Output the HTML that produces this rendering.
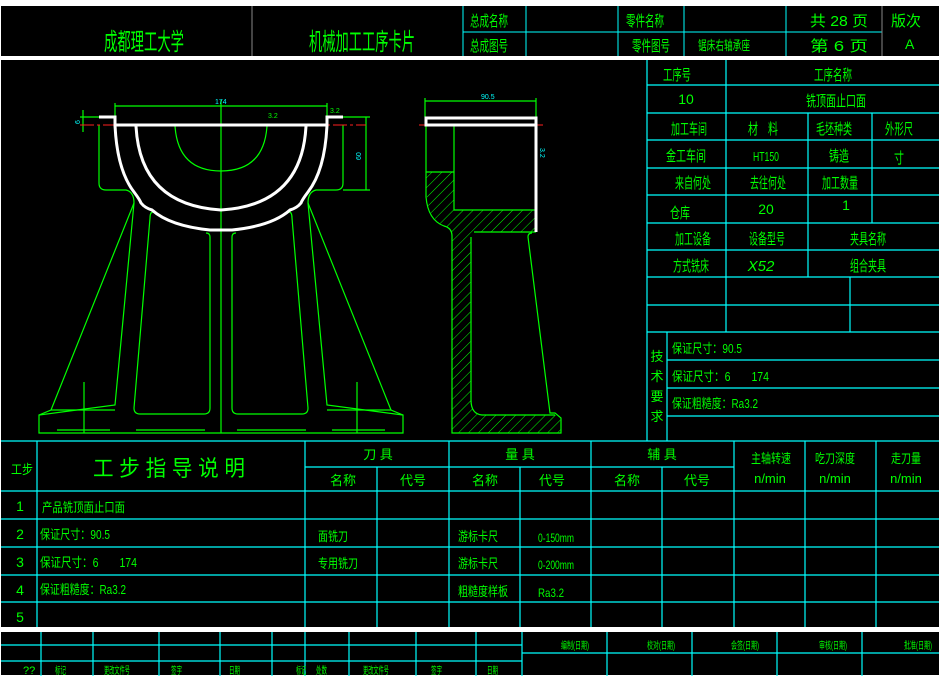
<!DOCTYPE html>
<html><head><meta charset="utf-8"><style>
html,body{margin:0;padding:0;background:#fff}
svg{display:block}
text{font-family:"Liberation Sans","Noto Sans CJK SC",sans-serif;fill:#00ff00}
</style></head><body>
<svg width="939" height="681" viewBox="0 0 939 681" xmlns="http://www.w3.org/2000/svg">
<rect x="0" y="0" width="939" height="681" fill="#fff"/>
<rect x="1" y="6" width="938" height="50" fill="#000"/>
<rect x="1" y="60" width="938" height="567" fill="#000"/>
<rect x="1" y="632" width="938" height="43" fill="#000"/>

<!-- header lines -->
<g stroke="#00ffff" stroke-width="1" fill="none">
<line x1="463" y1="32" x2="882" y2="32"/>
<line x1="463" y1="6" x2="463" y2="56"/><line x1="526" y1="6" x2="526" y2="56"/>
<line x1="618" y1="6" x2="618" y2="56"/><line x1="684" y1="6" x2="684" y2="56"/>
<line x1="786" y1="6" x2="786" y2="56"/>
</g>
<g stroke="#888" stroke-width="1"><line x1="252" y1="6" x2="252" y2="56"/><line x1="882" y1="6" x2="882" y2="56"/></g>
<text x="104" y="50" font-size="24" textLength="80" lengthAdjust="spacingAndGlyphs">成都理工大学</text>
<text x="309" y="50" font-size="24" textLength="106" lengthAdjust="spacingAndGlyphs">机械加工工序卡片</text>
<text x="470" y="26" font-size="15" textLength="38" lengthAdjust="spacingAndGlyphs">总成名称</text>
<text x="470" y="51" font-size="15" textLength="38" lengthAdjust="spacingAndGlyphs">总成图号</text>
<text x="626" y="26" font-size="15" textLength="38" lengthAdjust="spacingAndGlyphs">零件名称</text>
<text x="632" y="51" font-size="15" textLength="38" lengthAdjust="spacingAndGlyphs">零件图号</text>
<text x="698" y="50" font-size="13" textLength="52" lengthAdjust="spacingAndGlyphs">锯床右轴承座</text>
<text x="810" y="26" font-size="15" textLength="58" lengthAdjust="spacingAndGlyphs">共 28 页</text>
<text x="810" y="51" font-size="15" textLength="58" lengthAdjust="spacingAndGlyphs">第 6 页</text>
<text x="891" y="26" font-size="15" textLength="30" lengthAdjust="spacingAndGlyphs">版次</text>
<text x="905" y="49" font-size="14">A</text>

<!-- right table -->
<g stroke="#00ffff" stroke-width="1.2" fill="none">
<line x1="647" y1="60" x2="647" y2="441"/>
<line x1="726" y1="60" x2="726" y2="332"/>
<line x1="808" y1="113" x2="808" y2="277"/>
<line x1="872" y1="113" x2="872" y2="223"/>
<line x1="850" y1="277" x2="850" y2="332"/>
<line x1="667" y1="332" x2="667" y2="441"/>
<line x1="647" y1="85" x2="939" y2="85"/><line x1="647" y1="113" x2="939" y2="113"/>
<line x1="647" y1="140" x2="939" y2="140"/><line x1="647" y1="168" x2="939" y2="168"/>
<line x1="647" y1="195" x2="939" y2="195"/><line x1="647" y1="223" x2="939" y2="223"/>
<line x1="647" y1="250" x2="939" y2="250"/><line x1="647" y1="277" x2="939" y2="277"/>
<line x1="647" y1="305" x2="939" y2="305"/><line x1="647" y1="332" x2="939" y2="332"/>
<line x1="667" y1="360" x2="939" y2="360"/><line x1="667" y1="388" x2="939" y2="388"/>
<line x1="667" y1="416" x2="939" y2="416"/>
</g>
<g font-size="15" text-anchor="middle">
<text x="677" y="80" textLength="28" lengthAdjust="spacingAndGlyphs">工序号</text>
<text x="833" y="80" textLength="38" lengthAdjust="spacingAndGlyphs">工序名称</text>
<text x="686" y="104" font-size="14">10</text>
<text x="836" y="106" textLength="60" lengthAdjust="spacingAndGlyphs">铣顶面止口面</text>
<text x="689" y="134" textLength="36" lengthAdjust="spacingAndGlyphs">加工车间</text>
<text x="763" y="134" textLength="30" lengthAdjust="spacingAndGlyphs">材　料</text>
<text x="834" y="134" textLength="36" lengthAdjust="spacingAndGlyphs">毛坯种类</text>
<text x="899" y="134" textLength="28" lengthAdjust="spacingAndGlyphs">外形尺</text>
<text x="686" y="161" textLength="40" lengthAdjust="spacingAndGlyphs">金工车间</text>
<text x="766" y="161" font-size="13" textLength="26" lengthAdjust="spacingAndGlyphs">HT150</text>
<text x="839" y="161" textLength="20" lengthAdjust="spacingAndGlyphs">铸造</text>
<text x="899" y="163" textLength="10" lengthAdjust="spacingAndGlyphs">寸</text>
<text x="693" y="188" textLength="36" lengthAdjust="spacingAndGlyphs">来自何处</text>
<text x="768" y="188" textLength="36" lengthAdjust="spacingAndGlyphs">去往何处</text>
<text x="840" y="188" textLength="36" lengthAdjust="spacingAndGlyphs">加工数量</text>
<text x="680" y="218" textLength="20" lengthAdjust="spacingAndGlyphs">仓库</text>
<text x="766" y="214" font-size="14">20</text>
<text x="846" y="210" font-size="14">1</text>
<text x="693" y="244" textLength="36" lengthAdjust="spacingAndGlyphs">加工设备</text>
<text x="767" y="244" textLength="36" lengthAdjust="spacingAndGlyphs">设备型号</text>
<text x="868" y="244" textLength="36" lengthAdjust="spacingAndGlyphs">夹具名称</text>
<text x="691" y="271" textLength="36" lengthAdjust="spacingAndGlyphs">方式铣床</text>
<text x="761" y="271" font-size="15" font-style="italic">X52</text>
<text x="868" y="271" textLength="36" lengthAdjust="spacingAndGlyphs">组合夹具</text>
<text x="657" y="361" font-size="13">技</text>
<text x="657" y="381" font-size="13">术</text>
<text x="657" y="401" font-size="13">要</text>
<text x="657" y="421" font-size="13">求</text>
</g>
<g font-size="13">
<text x="672" y="353" textLength="70" lengthAdjust="spacingAndGlyphs">保证尺寸：90.5</text>
<text x="672" y="381" textLength="97" lengthAdjust="spacingAndGlyphs">保证尺寸：6　　174</text>
<text x="672" y="408" textLength="86" lengthAdjust="spacingAndGlyphs">保证粗糙度：Ra3.2</text>
</g>

<!-- drawing: front view -->
<g stroke="#00ff00" stroke-width="1.2" fill="none">
<line x1="221" y1="100" x2="221" y2="433"/>
<line x1="84" y1="382" x2="84" y2="433"/><line x1="357" y1="382" x2="357" y2="433"/>
<!-- outer body left -->
<path d="M99,125 L99,183 Q99,190 106,190 L126,190 Q134,192 134,203 L115,405 L39,415 L39,433 L403,433 L403,415 L327,405 L308,203 Q308,192 316,190 L336,190 Q343,190 343,183 L343,125"/>
<path d="M134,203 L51,410 L39,415 M308,203 L391,410 L403,415"/>
<path d="M51,410 L115,410 M327,410 L391,410"/>
<!-- inner legs -->
<path d="M153,212 Q150,212 150,218 L134,408 Q134,414 140,414 L204,414 Q210,414 210,408 L210,237 Q210,233 206,233"/>
<path d="M289,212 Q292,212 292,218 L308,408 Q308,414 302,414 L238,414 Q232,414 232,408 L232,237 Q232,233 236,233"/>
<path d="M57,430 L110,430 M136,430 L205,430 M237,430 L306,430 M332,430 L385,430"/>
<!-- small arc -->
<path d="M175,126 Q178,171 221,171 Q264,171 267,126"/>
<!-- dims -->
<line x1="115" y1="106" x2="327" y2="106"/>
<line x1="115" y1="103" x2="115" y2="117"/><line x1="327" y1="103" x2="327" y2="117"/>
<line x1="343" y1="117" x2="370" y2="117"/><line x1="343" y1="190" x2="370" y2="190"/>
<line x1="366" y1="117" x2="366" y2="190"/>
<line x1="80" y1="117" x2="99" y2="117"/><line x1="83" y1="110" x2="83" y2="132"/>
</g>
<line x1="80" y1="125" x2="366" y2="125" stroke="#ff2020" stroke-width="1" stroke-dasharray="14,3,3,3"/>
<g stroke="#fff" stroke-width="3" fill="none">
<path d="M99,117 L115,117 L115,125 L327,125 L327,117 L343,117"/>
<path d="M115,125 Q117,170 134,192 Q140,200 141,203 Q145,208 152,210 Q170,226 210,230 L232,230 Q272,226 290,210 Q297,208 301,203 Q302,200 308,192 Q325,170 327,125"/>
<path d="M136,126 Q140,205 221,210 Q302,205 306,126"/>
</g>
<g font-size="7" fill="#00ffff"><text x="215" y="104" style="fill:#00ffff">174</text>
<text x="361" y="160" style="fill:#00ffff" transform="rotate(-90 361 160)">60</text>
<text x="80" y="124" style="fill:#00ffff" transform="rotate(-90 80 124)">6</text>
<text x="268" y="118" style="fill:#00ff00">3.2</text><text x="330" y="113" style="fill:#00ff00">3.2</text>
<text x="481" y="99" style="fill:#00ffff">90.5</text>
<text x="540" y="148" style="fill:#00ffff" transform="rotate(90 540 148)">3.2</text></g>

<!-- side view -->
<defs><pattern id="h" width="7" height="7" patternUnits="userSpaceOnUse" patternTransform="rotate(45)"><line x1="0" y1="0" x2="0" y2="7" stroke="#00ff00" stroke-width="1"/></pattern></defs>
<path d="M426,172 L454,172 L454,210 L536,210 L536,232 L474,232 Q471,234 471,240 L471,400 Q471,414 482,415 L560,415 L561,433 L452,433 L452,236 Q452,228 444,226 Q430,218 427,200 L426,172 Z" fill="url(#h)" stroke="none"/>
<g stroke="#00ff00" stroke-width="1.2" fill="none">
<path d="M426,125 L426,197 Q428,220 444,226 Q452,228 452,236 L452,433 L561,433 L561,418 L555,413 L550,413 L528,237 Q528,233 532,233"/>
<path d="M454,125 L454,210 L536,210"/>
<line x1="426" y1="172" x2="454" y2="172"/>
<path d="M471,237 L471,400 Q471,414 482,415 L555,415"/>
<path d="M474,232 L536,232"/>
<line x1="425" y1="101" x2="536" y2="101"/><line x1="425" y1="98" x2="425" y2="117"/><line x1="536" y1="98" x2="536" y2="117"/>
</g>
<line x1="419" y1="125" x2="543" y2="125" stroke="#ff2020" stroke-width="1"/>
<g stroke="#fff" stroke-width="3" fill="none"><rect x="426" y="118" width="110" height="7"/><line x1="536" y1="125" x2="536" y2="232"/></g>

<!-- bottom process table -->
<g stroke="#00ffff" stroke-width="1.2" fill="none">
<line x1="1" y1="441" x2="939" y2="441"/>
<line x1="305" y1="467" x2="734" y2="467"/>
<line x1="1" y1="491" x2="939" y2="491"/><line x1="1" y1="519" x2="939" y2="519"/>
<line x1="1" y1="547" x2="939" y2="547"/><line x1="1" y1="575" x2="939" y2="575"/>
<line x1="1" y1="602" x2="939" y2="602"/>
<line x1="37" y1="441" x2="37" y2="627"/><line x1="305" y1="441" x2="305" y2="627"/>
<line x1="377" y1="467" x2="377" y2="627"/><line x1="449" y1="441" x2="449" y2="627"/>
<line x1="520" y1="467" x2="520" y2="627"/><line x1="591" y1="441" x2="591" y2="627"/>
<line x1="662" y1="467" x2="662" y2="627"/><line x1="734" y1="441" x2="734" y2="627"/>
<line x1="805" y1="441" x2="805" y2="627"/><line x1="876" y1="441" x2="876" y2="627"/>
</g>
<text x="11" y="474" font-size="13" textLength="22" lengthAdjust="spacingAndGlyphs">工步</text>
<text x="93" y="476" font-size="22" textLength="152" lengthAdjust="spacingAndGlyphs">工 步 指 导 说 明</text>
<g font-size="13" text-anchor="middle">
<text x="378" y="459">刀 具</text><text x="520" y="459">量 具</text><text x="662" y="459">辅 具</text>
<text x="771" y="463" textLength="40" lengthAdjust="spacingAndGlyphs">主轴转速</text>
<text x="835" y="463" textLength="40" lengthAdjust="spacingAndGlyphs">吃刀深度</text>
<text x="906" y="463" textLength="30" lengthAdjust="spacingAndGlyphs">走刀量</text>
<text x="770" y="483">n/min</text><text x="835" y="483">n/min</text><text x="906" y="483">n/min</text>
<text x="343" y="485">名称</text><text x="413" y="485">代号</text><text x="485" y="485">名称</text>
<text x="552" y="485">代号</text><text x="627" y="485">名称</text><text x="697" y="485">代号</text>
<text x="20" y="511" font-size="14">1</text><text x="20" y="539" font-size="14">2</text>
<text x="20" y="567" font-size="14">3</text><text x="20" y="595" font-size="14">4</text>
<text x="20" y="622" font-size="14">5</text>
</g>
<g font-size="13">
<text x="42" y="512" textLength="83" lengthAdjust="spacingAndGlyphs">产品铣顶面止口面</text>
<text x="40" y="539" textLength="70" lengthAdjust="spacingAndGlyphs">保证尺寸：90.5</text>
<text x="40" y="567" textLength="97" lengthAdjust="spacingAndGlyphs">保证尺寸：6　　174</text>
<text x="40" y="594" textLength="86" lengthAdjust="spacingAndGlyphs">保证粗糙度：Ra3.2</text>
<text x="318" y="541" textLength="30" lengthAdjust="spacingAndGlyphs">面铣刀</text>
<text x="318" y="568" textLength="40" lengthAdjust="spacingAndGlyphs">专用铣刀</text>
<text x="458" y="541" textLength="40" lengthAdjust="spacingAndGlyphs">游标卡尺</text>
<text x="458" y="568" textLength="40" lengthAdjust="spacingAndGlyphs">游标卡尺</text>
<text x="458" y="596" textLength="50" lengthAdjust="spacingAndGlyphs">粗糙度样板</text>
<text x="538" y="542" font-size="12" textLength="36" lengthAdjust="spacingAndGlyphs">0-150mm</text>
<text x="538" y="569" font-size="12" textLength="36" lengthAdjust="spacingAndGlyphs">0-200mm</text>
<text x="538" y="597" font-size="12" textLength="26" lengthAdjust="spacingAndGlyphs">Ra3.2</text>
</g>

<!-- bottom signature block -->
<g stroke="#00ffff" stroke-width="1.2" fill="none">
<line x1="1" y1="645" x2="522" y2="645"/><line x1="1" y1="661" x2="522" y2="661"/>
<line x1="522" y1="653" x2="939" y2="653"/>
<line x1="41" y1="632" x2="41" y2="676"/><line x1="93" y1="632" x2="93" y2="676"/>
<line x1="159" y1="632" x2="159" y2="676"/><line x1="220" y1="632" x2="220" y2="676"/>
<line x1="272" y1="632" x2="272" y2="676"/><line x1="305" y1="632" x2="305" y2="676"/>
<line x1="349" y1="632" x2="349" y2="676"/><line x1="416" y1="632" x2="416" y2="676"/>
<line x1="476" y1="632" x2="476" y2="676"/><line x1="522" y1="632" x2="522" y2="676"/>
<line x1="607" y1="632" x2="607" y2="676"/><line x1="692" y1="632" x2="692" y2="676"/>
<line x1="777" y1="632" x2="777" y2="676"/><line x1="862" y1="632" x2="862" y2="676"/>
</g>
<g font-size="10">
<text x="23" y="674" font-size="11">??</text>
<text x="55" y="674" textLength="11" lengthAdjust="spacingAndGlyphs">标记</text>
<text x="104" y="674" textLength="26" lengthAdjust="spacingAndGlyphs">更改文件号</text>
<text x="171" y="674" textLength="11" lengthAdjust="spacingAndGlyphs">签字</text>
<text x="229" y="674" textLength="11" lengthAdjust="spacingAndGlyphs">日期</text>
<text x="296" y="674" textLength="10" lengthAdjust="spacingAndGlyphs">标记</text>
<text x="316" y="674" textLength="11" lengthAdjust="spacingAndGlyphs">处数</text>
<text x="363" y="674" textLength="26" lengthAdjust="spacingAndGlyphs">更改文件号</text>
<text x="431" y="674" textLength="11" lengthAdjust="spacingAndGlyphs">签字</text>
<text x="487" y="674" textLength="11" lengthAdjust="spacingAndGlyphs">日期</text>
<text x="561" y="649" textLength="28" lengthAdjust="spacingAndGlyphs">编制(日期)</text>
<text x="647" y="649" textLength="28" lengthAdjust="spacingAndGlyphs">校对(日期)</text>
<text x="731" y="649" textLength="28" lengthAdjust="spacingAndGlyphs">会签(日期)</text>
<text x="819" y="649" textLength="28" lengthAdjust="spacingAndGlyphs">审核(日期)</text>
<text x="904" y="649" textLength="28" lengthAdjust="spacingAndGlyphs">批准(日期)</text>
</g>
</svg>
</body></html>
